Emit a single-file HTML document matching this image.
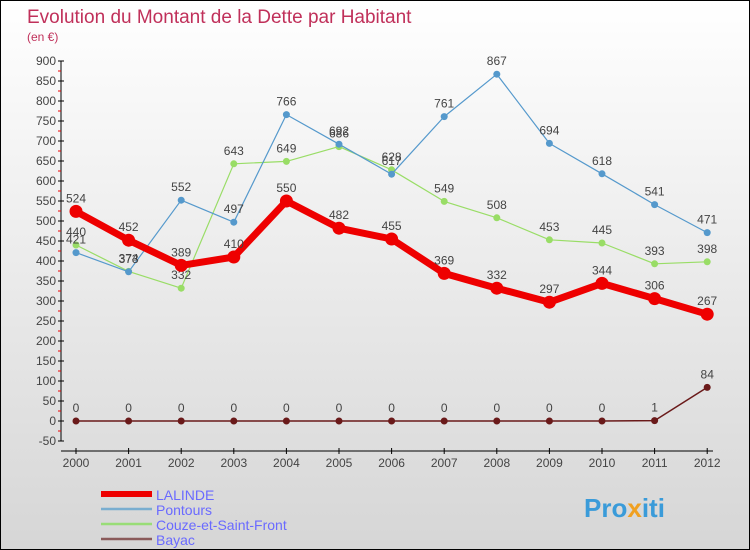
<!DOCTYPE html>
<html><head><meta charset="utf-8"><style>
body{margin:0}
#c{width:750px;height:550px;position:relative;overflow:hidden;box-sizing:border-box;border:1px solid #000;background:linear-gradient(#fff,#d6d6d6);font-family:"Liberation Sans",sans-serif}
</style></head><body>
<div id="c">
<svg id="s" width="750" height="550" style="position:absolute;left:0;top:0">
<text x="26" y="22" font-size="19" fill="#c0305a">Evolution du Montant de la Dette par Habitant</text>
<text x="26" y="40" font-size="12" fill="#c0305a">(en €)</text>
<g id="axes"></g><g id="series"></g><g id="legend"></g>
<text x="583" y="516" font-size="26" font-weight="bold" fill="#3a9bd9">Pro<tspan fill="#f0a020">x</tspan>iti</text>
</svg></div>
<script>
const years=["2000","2001","2002","2003","2004","2005","2006","2007","2008","2009","2010","2011","2012"];
const yTicks=[900,850,800,750,700,650,600,550,500,450,400,350,300,250,200,150,100,50,0,-50];
const lalinde=[524,452,389,410,550,482,455,369,332,297,344,306,267];
const pontours=[421,373,552,497,766,692,617,761,867,694,618,541,471];
const couze=[440,374,332,643,649,686,628,549,508,453,445,393,398];
const bayac=[0,0,0,0,0,0,0,0,0,0,0,1,84];
const NS="http://www.w3.org/2000/svg";
const X=i=>75+i*52.6;
const Y=v=>420-v*0.4;
function mk(t,a,p){const e=document.createElementNS(NS,t);for(const k in a)e.setAttribute(k,a[k]);p.appendChild(e);return e;}
const ax=document.getElementById('axes');
const yl=mk('line',{x1:60,y1:Y(900),x2:60,y2:Y(-50),stroke:'#000'},ax);

yTicks.forEach(v=>{
 mk('line',{x1:57,x2:63,y1:Y(v),y2:Y(v),stroke:'#000'},ax);
 if(v>-50)mk('line',{x1:57,x2:60,y1:Y(v-25),y2:Y(v-25),stroke:'#e00'},ax);
 const t=mk('text',{x:55,y:Y(v)+4,'text-anchor':'end','font-size':12,fill:'#444'},ax);t.textContent=v;
 
});
const xl=mk('line',{x1:60,y1:450,x2:712,y2:450,stroke:'#000'},ax);

years.forEach((y,i)=>{
 mk('line',{x1:X(i),x2:X(i),y1:447,y2:453,stroke:'#000'},ax);
 const t=mk('text',{x:X(i),y:466,'text-anchor':'middle','font-size':12,fill:'#444'},ax);t.textContent=y;
 
});
const sg=document.getElementById('series');
function draw(name,vals,color,w,r){
 const g=mk('g',{},sg);
 const p=mk('polyline',{points:vals.map((v,i)=>X(i)+','+Y(v)).join(' '),fill:'none',stroke:color,'stroke-width':w,'stroke-linejoin':'round'},g);
 
 vals.forEach((v,i)=>{
  const c=mk('circle',{cx:X(i),cy:Y(v),r:r,fill:color},g);
  
  const t=mk('text',{x:X(i),y:Y(v)-9,'text-anchor':'middle','font-size':12,fill:'#444'},g);t.textContent=v;
  
 });
}
draw('bayac',bayac,'#6a1a1a',1.5,3.5);
draw('couze',couze,'#99dd66',1.2,3.5);
draw('pontours',pontours,'#5599cc',1.2,3.5);
draw('lalinde',lalinde,'#ee0000',7,6.5);
const lg=document.getElementById('legend');
[['LALINDE','#ee0000',6],['Pontours','#7aaed0',2.5],['Couze-et-Saint-Front','#99dd77',2.5],['Bayac','#8a5a5a',2.5]].forEach((d,i)=>{
 const y=493+i*15;
 const g=mk('g',{},lg);
 mk('line',{x1:100,x2:151,y1:y,y2:y,stroke:d[1],'stroke-width':d[2]},g);
 const t=mk('text',{x:155,y:y+6,'font-size':14,fill:'#6a6aff'},g);t.textContent=d[0];
});
</script>
</body></html>
